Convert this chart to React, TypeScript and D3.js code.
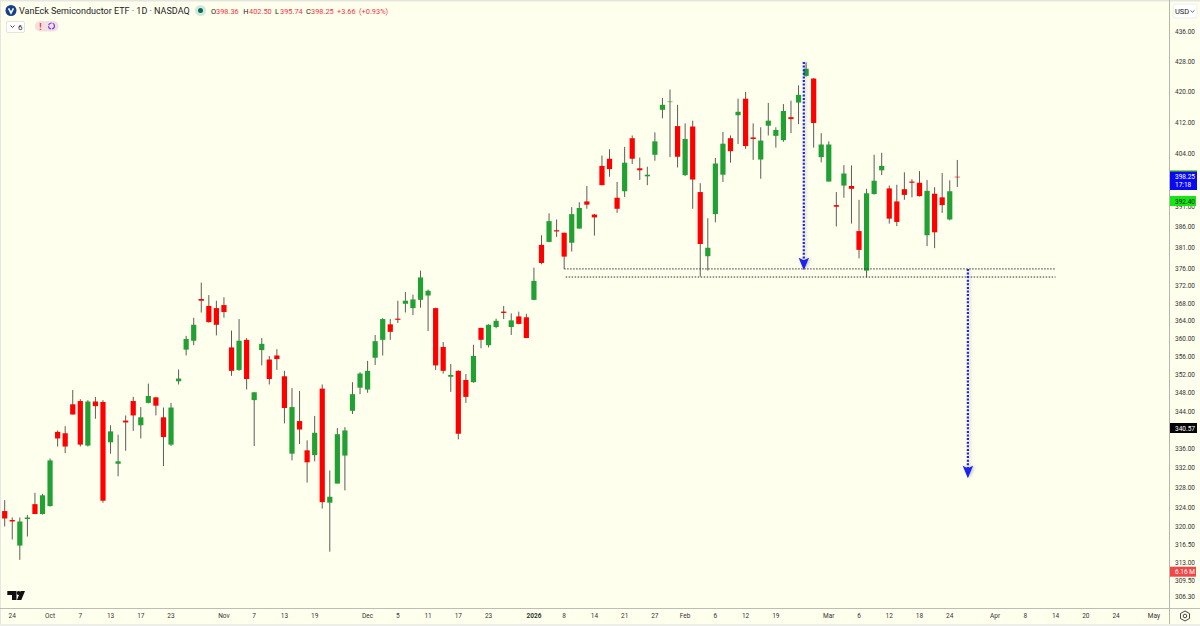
import { useRef, useEffect } from 'react';
import * as d3 from 'd3';

const opens = [
  323.2, 321.4, 316.3, 321.6, 324.6, 322.6, 324.2, 339.6, 339.3, 345.5,
  346.2, 336.7, 346.1, 346.0, 337.4, 332.9, 342.0, 346.2, 341.0, 345.8,
  347.0, 342.7, 336.9, 350.5, 357.5, 359.5, 369.0, 367.4, 366.9, 367.6,
  358.0, 353.0, 359.7, 346.4, 357.4, 355.3, 356.2, 351.6, 335.0, 341.9,
  335.7, 334.7, 348.9, 324.9, 328.8, 334.6, 344.1, 349.1, 348.7, 355.7,
  359.7, 363.2, 364.5, 367.9, 366.9, 368.8, 369.8, 366.9, 358.1, 351.5,
  352.8, 350.8, 350.3, 362.4, 358.5, 362.6, 366.1, 362.6, 365.0, 364.8,
  368.8, 381.7, 382.4, 385.2, 384.6, 382.2, 385.6, 392.2, 389.0, 401.0,
  402.8, 393.1, 394.7, 408.0, 400.4, 398.4, 403.8, 415.3, 417.3, 411.1,
  398.7, 411.0, 394.5, 379.0, 389.1, 398.8, 408.0, 413.9, 418.2, 408.2,
  402.6, 411.2, 408.6, 407.5, 413.4, 417.2, 424.2, 423.5, 403.2, 397.1,
  391.3, 396.1, 396.0, 385.0, 375.6, 394.0, 399.9, 395.4, 392.2, 395.2,
  397.1, 396.8, 384.0, 394.1, 393.2, 387.8, 398.36,
];

const highs = [
  325.4, 321.9, 321.9, 322.4, 326.9, 326.7, 334.0, 339.9, 340.8, 348.6,
  346.6, 346.4, 347.1, 346.4, 341.0, 339.0, 343.1, 347.1, 344.9, 350.0,
  347.1, 344.8, 345.8, 353.1, 360.6, 364.7, 372.8, 369.9, 368.6, 369.4,
  361.8, 364.4, 360.1, 348.1, 360.1, 356.1, 357.6, 352.8, 349.0, 348.4,
  337.8, 343.0, 349.8, 331.5, 340.4, 340.6, 350.3, 352.5, 355.0, 360.8,
  364.6, 364.4, 368.6, 370.6, 370.0, 375.6, 371.2, 367.0, 359.2, 354.3,
  352.9, 352.1, 358.6, 362.4, 363.2, 364.5, 367.4, 365.7, 366.1, 365.6,
  376.3, 384.0, 389.3, 387.8, 384.6, 390.8, 392.0, 396.0, 389.1, 403.6,
  405.2, 397.0, 405.8, 408.7, 403.1, 400.8, 409.5, 418.4, 420.6, 416.6,
  411.8, 412.5, 396.7, 388.1, 403.0, 409.6, 408.7, 418.2, 420.0, 411.8,
  410.8, 417.1, 410.8, 416.8, 417.7, 421.7, 427.8, 423.6, 409.3, 407.2,
  394.5, 401.2, 401.1, 392.6, 395.3, 403.8, 404.3, 396.1, 396.3, 399.4,
  397.7, 399.7, 397.5, 395.7, 399.2, 397.4, 402.5,
];

const lows = [
  320.1, 317.5, 313.5, 318.1, 322.6, 322.5, 324.1, 336.5, 335.1, 343.3,
  336.5, 336.5, 342.4, 324.9, 335.0, 330.3, 335.6, 339.8, 338.2, 345.7,
  343.1, 332.4, 336.6, 349.8, 356.2, 358.5, 365.9, 363.6, 360.7, 364.7,
  351.7, 352.8, 348.7, 336.6, 354.0, 349.8, 353.0, 341.4, 333.6, 337.0,
  329.0, 333.4, 323.7, 315.1, 328.8, 327.4, 343.4, 347.7, 348.0, 354.1,
  356.2, 359.7, 363.5, 365.9, 365.3, 367.0, 361.7, 353.0, 352.2, 348.2,
  338.0, 345.8, 350.2, 357.8, 358.0, 362.3, 364.4, 360.8, 363.2, 360.1,
  368.7, 377.1, 382.3, 383.6, 376.0, 380.1, 385.6, 390.4, 383.9, 396.2,
  398.3, 389.4, 393.3, 401.5, 397.5, 396.2, 402.3, 413.1, 403.2, 400.6,
  398.5, 390.4, 374.2, 375.6, 387.1, 397.0, 401.8, 406.5, 405.3, 402.5,
  397.8, 408.7, 405.6, 407.1, 409.3, 411.6, 424.0, 405.6, 401.9, 397.1,
  386.1, 393.1, 386.8, 378.5, 374.0, 393.9, 398.7, 386.8, 386.2, 392.6,
  393.2, 393.4, 381.4, 380.9, 389.4, 387.6, 395.74,
];

const closes = [
  321.7, 321.1, 321.1, 321.9, 322.6, 326.4, 333.6, 338.2, 336.5, 343.3,
  336.9, 346.1, 345.1, 325.3, 339.7, 333.4, 341.6, 343.1, 342.7, 347.3,
  345.2, 338.5, 344.8, 351.1, 359.9, 363.1, 368.6, 363.7, 363.1, 366.0,
  352.8, 359.5, 351.0, 348.1, 358.8, 351.0, 355.4, 344.7, 344.9, 340.1,
  333.2, 339.4, 325.0, 326.1, 339.1, 339.9, 347.7, 352.2, 352.8, 359.4,
  364.4, 361.5, 364.3, 368.6, 368.9, 374.0, 370.9, 354.0, 352.8, 351.9,
  339.2, 347.1, 356.1, 359.7, 363.1, 364.0, 365.8, 364.1, 363.3, 360.1,
  373.2, 377.4, 387.4, 384.9, 378.9, 389.1, 390.6, 391.4, 388.3, 396.2,
  400.2, 390.4, 401.8, 402.8, 399.9, 398.8, 407.2, 416.6, 417.6, 403.3,
  407.8, 397.6, 381.9, 381.0, 401.6, 406.6, 404.7, 414.8, 406.0, 407.8,
  407.4, 412.5, 410.1, 415.0, 412.9, 419.2, 426.1, 411.9, 406.4, 406.4,
  390.9, 399.1, 395.3, 380.5, 394.2, 397.3, 401.0, 388.0, 387.2, 393.8,
  396.8, 393.5, 394.8, 384.7, 391.3, 394.7, 398.25,
];

const priceTicks = [
  436, 428, 420, 412, 404, 391, 386, 381, 376, 372, 368, 364, 360, 356, 352,
  348, 344, 336, 332, 328, 324, 320, 316.5, 313, 309.5, 306.3,
];

const dateTickBars = [
  1, 6, 10, 14, 18, 22, 29, 33, 37, 41, 48, 52, 56, 60, 64, 70, 74, 78, 82, 86,
  90, 94, 98, 102, 109, 113, 117, 121, 125, 131, 135, 139, 143, 147, 152,
];
const dateTickLabels = [
  '24', 'Oct', '7', '13', '17', '23', 'Nov', '7', '13', '19', 'Dec', '5', '11', '17', '23', '2026', '8', '14', '21', '27',
  'Feb', '6', '12', '19', 'Mar', '6', '12', '18', '24', 'Apr', '8', '14', '20', '24', 'May',
];
const boldDateLabels = ['2026'];

// support lines: price level, first bar, last bar
const supportPrices = [376, 374.1];
const supportStartBars = [74, 74.2];
const supportEndBar = 139;

// measured-move arrows: bar position, start price, end price
const arrowBars = [105.7, 127.4];
const arrowFrom = [427.9, 376];
const arrowTo = [375.7, 329.9];

const legendParts = [
  { text: 'O', x: 211, dark: true },
  { text: '398.36', x: 216, dark: false },
  { text: 'H', x: 243.3, dark: true },
  { text: '402.50', x: 249, dark: false },
  { text: 'L', x: 275, dark: true },
  { text: '395.74', x: 280, dark: false },
  { text: 'C', x: 306, dark: true },
  { text: '398.25', x: 311, dark: false },
  { text: '+3.66', x: 337, dark: false },
  { text: '(+0.93%)', x: 359, dark: false },
];

const BG = '#ffffee';
const UP = '#22a034';
const DOWN = '#ff0000';
const FONT = 'Roboto, "Noto Sans", sans-serif';
const AXIS_SIZE = 6.5;

const App = () => {
  const svgRef = useRef<SVGSVGElement>(null);

  useEffect(() => {
    const svg = d3.select(svgRef.current);
    svg.selectAll('*').remove();

    const xScale = d3.scaleLinear().domain([0, 126]).range([4.7, 957.3]);
    const yScale = d3.scaleLog().domain([436, 306.3]).range([32, 597]);
    const bars = d3.range(opens.length);

    svg.append('rect').attr('width', 1200).attr('height', 626).attr('fill', BG);

    const defs = svg.append('defs');
    defs.append('filter').attr('id', 'soft')
      .attr('x', '-200%').attr('width', '500%')
      .append('feDropShadow')
      .attr('dx', 1.5).attr('dy', 0).attr('stdDeviation', 1.5)
      .attr('flood-color', '#000').attr('flood-opacity', 0.25);

    // wicks
    svg.append('g').selectAll('line').data(bars).enter().append('line')
      .attr('x1', i => xScale(i)).attr('x2', i => xScale(i))
      .attr('y1', i => yScale(highs[i])).attr('y2', i => yScale(lows[i]))
      .attr('stroke', '#5c5c5c').attr('stroke-width', 1);

    // bodies
    svg.append('g').selectAll('rect').data(bars).enter().append('rect')
      .attr('x', i => xScale(i) - 2.6)
      .attr('y', i => yScale(Math.max(opens[i], closes[i])))
      .attr('width', 5.2)
      .attr('height', i => Math.max(1.2, Math.abs(yScale(opens[i]) - yScale(closes[i]))))
      .attr('fill', i => closes[i] < opens[i] ? DOWN : UP)
      .attr('opacity', i => i === 126 || i === 88 ? 0.5 : 1);

    // dotted support lines
    svg.append('g').selectAll('line').data(supportPrices).enter().append('line')
      .attr('x1', (_, k) => xScale(supportStartBars[k]))
      .attr('x2', xScale(supportEndBar))
      .attr('y1', d => yScale(d)).attr('y2', d => yScale(d))
      .attr('stroke', '#333').attr('stroke-width', 1).attr('stroke-dasharray', '1.5 1.5');

    // blue arrows
    const arrows = svg.append('g').attr('filter', 'url(#soft)');
    arrowBars.forEach((bar, k) => {
      const x = xScale(bar);
      const y0 = yScale(arrowFrom[k]);
      const y1 = yScale(arrowTo[k]);
      arrows.append('line')
        .attr('x1', x).attr('x2', x).attr('y1', y0).attr('y2', y1 - 9)
        .attr('stroke', '#1c22f0').attr('stroke-width', 2.2).attr('stroke-dasharray', '2 1.6');
      arrows.append('path')
        .attr('d', `M${x - 5.2} ${y1 - 12.5} L${x} ${y1 - 10} L${x + 5.2} ${y1 - 12.5} L${x} ${y1} Z`)
        .attr('fill', '#1c22f0');
    });

    // frame
    svg.append('rect').attr('width', 1200).attr('height', 1.5).attr('fill', '#e6e6e0');
    svg.append('rect').attr('width', 1).attr('height', 626).attr('fill', '#e6e6e0');
    svg.append('rect').attr('y', 624).attr('width', 1200).attr('height', 2).attr('fill', '#eeeee8');
    svg.append('line').attr('x1', 0).attr('x2', 1200).attr('y1', 608.5).attr('y2', 608.5)
      .attr('stroke', '#bdbdb5');
    svg.append('line').attr('x1', 1169.5).attr('x2', 1169.5).attr('y1', 0).attr('y2', 624)
      .attr('stroke', '#b5b5ad');

    // price axis
    svg.append('g').selectAll('text').data(priceTicks).enter().append('text')
      .attr('x', 1175).attr('y', d => yScale(d) + 2.4)
      .attr('font-family', FONT).attr('font-size', AXIS_SIZE).attr('fill', '#333')
      .text(d => d.toFixed(2));

    // date axis
    svg.append('g').selectAll('text').data(dateTickBars).enter().append('text')
      .attr('x', d => xScale(d)).attr('y', 618).attr('text-anchor', 'middle')
      .attr('font-family', FONT).attr('font-size', AXIS_SIZE).attr('fill', '#333')
      .attr('font-weight', (_, k) => boldDateLabels.includes(dateTickLabels[k]) ? 700 : 400)
      .text((_, k) => dateTickLabels[k]);

    // price tags
    const tag = (y: number, h: number, fill: string, w: number) =>
      svg.append('rect').attr('x', 1170).attr('y', y).attr('width', w).attr('height', h).attr('fill', fill);
    const tagText = (y: number, s: string, fill: string) =>
      svg.append('text').attr('x', 1175).attr('y', y).attr('font-family', FONT)
        .attr('font-size', AXIS_SIZE).attr('fill', fill).text(s);

    tag(170.5, 1.5, '#2a8a3a', 27);
    tag(172, 18, '#0a0af0', 27);
    tagText(179.3, '398.25', '#fff');
    tagText(187.3, '17:18', '#fff');
    tag(196, 10, '#16e616', 26);
    tagText(203.6, '392.40', '#102010');
    tag(423, 10, '#050505', 27);
    tagText(430.6, '340.57', '#fff');
    tag(566.7, 10, '#f04848', 26);
    tagText(574.3, '6.16 M', '#fff');

    // USD button
    svg.append('rect').attr('x', 1173).attr('y', 4).attr('width', 24).attr('height', 14)
      .attr('rx', 2).attr('fill', '#fff').attr('stroke', '#eee');
    svg.append('text').attr('x', 1175).attr('y', 14).attr('font-family', FONT)
      .attr('font-size', 7.5).attr('fill', '#222').text('USD');
    svg.append('path').attr('d', 'M1190.5 10.5 L1192.5 12.2 L1194.5 10.5')
      .attr('fill', 'none').attr('stroke', '#444').attr('stroke-width', 0.8);

    // settings gear
    svg.append('path').attr('d', 'M1185 611 L1189.5 613.5 L1189.5 618.5 L1185 621 L1180.5 618.5 L1180.5 613.5 Z')
      .attr('fill', 'none').attr('stroke', '#333').attr('stroke-width', 0.9);
    svg.append('circle').attr('cx', 1185).attr('cy', 616).attr('r', 1.8)
      .attr('fill', 'none').attr('stroke', '#333').attr('stroke-width', 0.9);

    // TradingView mark
    svg.append('path').attr('d', 'M7.3 591 H16.5 V600 H12 V595 H7.3 Z M25 591 L21.3 600 H16.9 L20.6 591 Z').attr('fill', '#111');
    svg.append('circle').attr('cx', 18.6).attr('cy', 593).attr('r', 2).attr('fill', '#111');

    // legend
    svg.append('circle').attr('cx', 11).attr('cy', 10.5).attr('r', 5.5).attr('fill', '#15418c');
    svg.append('path').attr('d', 'M8.6 8.4 L11 13 L13.4 8.4').attr('fill', 'none')
      .attr('stroke', '#fff').attr('stroke-width', 1.6);
    svg.append('text').attr('x', 19).attr('y', 14).attr('font-family', FONT)
      .attr('font-size', 9).attr('fill', '#222')
      .text('VanEck Semiconductor ETF · 1D · NASDAQ');
    svg.append('circle').attr('cx', 200.5).attr('cy', 10.5).attr('r', 5.5).attr('fill', '#cfeadd');
    svg.append('circle').attr('cx', 200.5).attr('cy', 10.5).attr('r', 2.5).attr('fill', '#0c6b58');
    svg.append('g').selectAll('text').data(legendParts).enter().append('text')
      .attr('x', d => d.x).attr('y', 13.8).attr('font-family', FONT).attr('font-size', 7.4)
      .attr('fill', d => d.dark ? '#222' : '#f23645')
      .text(d => d.text);

    // collapsed indicators and status pill
    svg.append('rect').attr('x', 6.5).attr('y', 21.5).attr('width', 18).attr('height', 11)
      .attr('rx', 1.5).attr('fill', '#fff').attr('stroke', '#e4e4e0');
    svg.append('path').attr('d', 'M10.5 25.5 L12.5 27.5 L14.5 25.5').attr('fill', 'none')
      .attr('stroke', '#333').attr('stroke-width', 0.9);
    svg.append('text').attr('x', 18).attr('y', 30).attr('font-family', FONT)
      .attr('font-size', 8).attr('fill', '#222').text('6');
    svg.append('rect').attr('x', 35).attr('y', 21).attr('width', 23.5).attr('height', 10.5)
      .attr('rx', 5).attr('fill', '#f3dfe0');
    svg.append('text').attr('x', 40.5).attr('y', 29.5).attr('text-anchor', 'middle')
      .attr('font-family', FONT).attr('font-size', 9).attr('font-weight', 700).attr('fill', '#e23a3a').text('!');
    svg.append('circle').attr('cx', 51.5).attr('cy', 26).attr('r', 3)
      .attr('fill', 'none').attr('stroke', '#6a3ff0').attr('stroke-width', 1.2).attr('stroke-dasharray', '4 1');
  }, []);

  return (
    <svg
      ref={svgRef}
      width={1200}
      height={626}
      style={{ position: 'fixed', left: 0, top: 0, display: 'block' }}
    />
  );
};

export default App;
